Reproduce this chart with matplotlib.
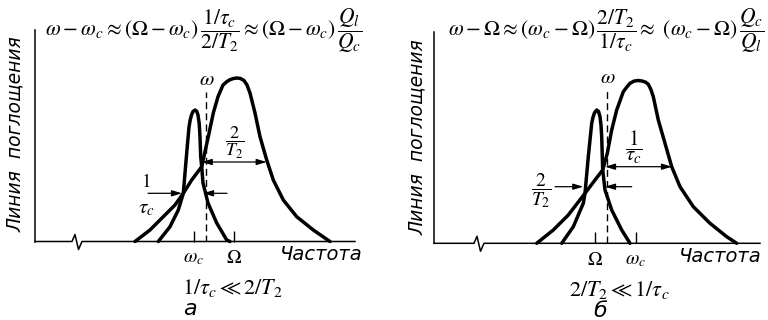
import matplotlib
matplotlib.use("Agg")
import matplotlib.pyplot as plt

plt.rcParams['mathtext.fontset'] = 'stix'
plt.rcParams['font.family'] = ['DejaVu Sans']

# ---------------- data (arbitrary frequency / absorption units) ----------------
# panel a : 1/tau_c << 2/T2
broad_a_x = [100, 115, 128.3, 140, 148.3, 156.7, 166.7, 173.3, 178.3, 183, 188, 192, 195, 198.5, 202,
             205.5, 209, 212, 215, 220, 225, 231.7, 238.3, 248.3, 261.7, 278.3, 295]
broad_a_y = [0, 11.5, 24.8, 36.5, 48.2, 61.5, 74.8, 104.8, 128.5, 144.8, 156.5, 160, 161.8, 163, 163.5,
             163, 161, 156.5, 148.5, 128.5, 104.8, 81.5, 61.5, 41.5, 24.8, 11.5, 0]
narrow_a_x = [123.3, 135, 143.3, 148.3, 151.7, 154, 155.3, 156.5, 158, 160, 161.7, 163, 164.2, 165,
              165.7, 166.7, 168, 173, 181.7, 191.7, 195]
narrow_a_y = [0, 14.8, 31.5, 48.2, 88.5, 114.5, 122, 126.5, 130, 131.5, 130.3, 126.5, 118, 104.8,
              84.8, 74.8, 58.5, 38.5, 18.5, 1.5, 0]
omega_a = 171
omega_a_top = 149.5
ticks_a = [158.5, 199]
ticklabels_a = [r'$\omega_c$', r'$\Omega$']
break_a = 37

# panel b : 2/T2 << 1/tau_c
broad_b_x = [102.7, 119.3, 134.3, 151, 161, 168.7, 173.3, 177.7, 182.7, 189.3, 193, 196, 200, 204,
             208, 211.5, 214.3, 216.8, 219.3, 224.3, 231, 237.7, 246, 259.3, 276, 292.7, 302.7]
broad_b_y = [0, 13.3, 28.3, 50, 63.3, 73.3, 90, 113.3, 133.3, 151.6, 156.5, 160, 162.2, 162.8,
             162.3, 161.2, 159, 154, 146.6, 123.3, 100, 76.6, 56.6, 36.6, 20, 6.6, 0]
narrow_b_x = [127.7, 139.3, 149.3, 151, 154.3, 157.7, 159, 160.5, 162.7, 164.5, 166, 167, 167.7,
              168.7, 171, 177.7, 187.7, 196]
narrow_b_y = [0, 16.6, 40, 50, 86.6, 120, 126, 130.5, 133.3, 132, 126.6, 118, 106.6,
              73.3, 53.3, 33.3, 13.3, 0]
omega_b = 173.3
omega_b_top = 153.3
ticks_b = [161, 202]
ticklabels_b = [r'$\Omega$', r'$\omega_c$']
break_b = 40

W, H = 768, 320
fig = plt.figure(figsize=(7.68, 3.2), dpi=100)
fig.patch.set_facecolor('white')


def make_axes(x0, base, right, top):
    ax = fig.add_axes([x0 / W, (H - base) / H, (right - x0) / W, (base - top) / H])
    ax.set_xlim(0, right - x0)
    ax.set_ylim(0, base - top)
    for s in ['top', 'right', 'bottom']:
        ax.spines[s].set_visible(False)
    ax.spines['left'].set_linewidth(1.1)
    ax.set_yticks([])
    ax.patch.set_alpha(0)
    return ax


def draw_panel(ax, bx, by, nx, ny, om, om_top, ticks, tlabels, brk):
    xmax = ax.get_xlim()[1]
    # baseline with break
    ax.plot([0, brk, brk + 3, brk + 6.5, brk + 10, xmax], [0, 0, 7, -8, 0, 0],
            color='black', lw=1.1, clip_on=False, solid_joinstyle='round')
    ax.plot(bx, by, color='black', lw=2.5, solid_capstyle='round', solid_joinstyle='round',
            clip_on=False)
    ax.plot(nx, ny, color='black', lw=2.5, solid_capstyle='round', solid_joinstyle='round',
            clip_on=False)
    ax.plot([om, om], [0, om_top], color='black', lw=1.0, ls=(0, (5, 3)))
    ax.set_xticks(ticks)
    ax.set_xticklabels(tlabels, fontsize=14)
    ax.tick_params(axis='x', direction='in', length=8, width=1.0, pad=5)
    ax.text(om + 1, om_top + 3, r'$\omega$', fontsize=15, ha='center', va='bottom')


def arrow(ax, x0, x1, y, both=False):
    style = '<|-|>' if both else '-|>'
    ax.annotate('', xy=(x1, y), xytext=(x0, y),
                arrowprops=dict(arrowstyle=style + ',head_length=0.6,head_width=0.18',
                                lw=0.9, color='black', shrinkA=0, shrinkB=0))


# ---------------- panel a ----------------
axa = make_axes(35, 241.5, 355, 30)
draw_panel(axa, broad_a_x, broad_a_y, narrow_a_x, narrow_a_y, omega_a, omega_a_top,
           ticks_a, ticklabels_a, break_a)
arrow(axa, 166.7, 231.7, 79.5, both=True)
arrow(axa, 113, 147, 48.2)
arrow(axa, 192, 168, 48.2)
axa.text(200, 99, r'$\dfrac{2}{T_2}$', fontsize=13, ha='center', va='center')
axa.text(111, 60, r'$1$', fontsize=14, ha='center', va='center')
axa.text(111, 34, r'$\tau_c$', fontsize=15, ha='center', va='center')

# ---------------- panel b ----------------
axb = make_axes(434, 243.3, 760, 32)
draw_panel(axb, broad_b_x, broad_b_y, narrow_b_x, narrow_b_y, omega_b, omega_b_top,
           ticks_b, ticklabels_b, break_b)
arrow(axb, 171, 238, 76.6, both=True)
arrow(axb, 121, 149.3, 56.6)
arrow(axb, 197.7, 171, 56.6)
axb.text(200, 96, r'$\dfrac{1}{\tau_c}$', fontsize=15, ha='center', va='center')
axb.text(107, 53, r'$\dfrac{2}{T_2}$', fontsize=14, ha='center', va='center')


def ftext(x, y, s, **kw):
    fig.text(x / W, 1 - y / H, s, ha='center', va='center', **kw)


# headers
ftext(204, 31, r'$\omega-\omega_c \approx (\Omega-\omega_c)\,\dfrac{1/\tau_c}{2/T_2} \approx (\Omega-\omega_c)\,\dfrac{Q_l}{Q_c}$',
      fontsize=15.5)
ftext(606, 31, r'$\omega-\Omega \approx (\omega_c-\Omega)\,\dfrac{2/T_2}{1/\tau_c} \approx\ (\omega_c-\Omega)\,\dfrac{Q_c}{Q_l}$',
      fontsize=15.5)

# axis titles
ftext(15, 134, 'Линия  поглощения', rotation=90, fontsize=13.5, style='italic')
ftext(417, 137, 'Линия  поглощения', rotation=90, fontsize=13.5, style='italic')
ftext(321, 255, 'Частота', fontsize=14, style='italic')
ftext(720, 257, 'Частота', fontsize=14, style='italic')

# conditions and panel letters
ftext(232, 288, r'$1/\tau_c \ll 2/T_2$', fontsize=16)
ftext(190, 309, 'а', fontsize=16, style='italic')
ftext(619, 290, r'$2/T_2 \ll 1/\tau_c$', fontsize=16)
ftext(600, 311, 'б', fontsize=16, style='italic')

fig.savefig('out.png', dpi=100, facecolor='white')
